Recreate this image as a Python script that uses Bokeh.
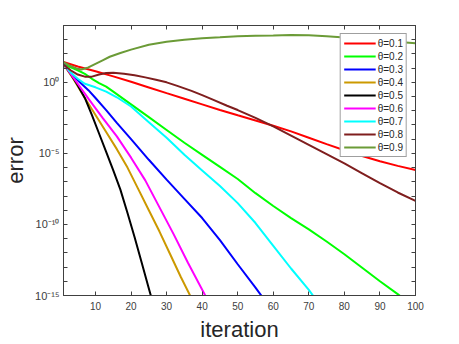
import numpy as np
from bokeh.plotting import figure
from bokeh.models import Range1d, FixedTicker, LogAxis, LinearAxis, Legend, LegendItem
from bokeh.embed import file_html
from bokeh.resources import INLINE

# ---- data (error values given as log10) ----
theta_labels = ["θ=0.1", "θ=0.2", "θ=0.3", "θ=0.4", "θ=0.5",
                "θ=0.6", "θ=0.7", "θ=0.8", "θ=0.9"]

it_01 = [1, 5, 10, 15, 20, 25, 30, 35, 40, 45, 50, 55, 60, 65, 70, 75, 80, 85, 90, 95, 100]
lg_01 = [1.43, 1.12, 0.78, 0.42, 0.04, -0.36, -0.76, -1.15, -1.55, -1.95, -2.32, -2.68,
         -3.05, -3.45, -3.9, -4.35, -4.78, -5.18, -5.55, -5.88, -6.17]

it_02 = [1, 3, 5, 7, 9, 11, 13, 15, 20, 25, 30, 35, 40, 45, 50, 55, 60, 65, 70, 75, 80, 85, 90, 95, 97]
lg_02 = [1.3, 1.05, 0.85, 0.6, 0.25, -0.05, -0.3, -0.65, -1.55, -2.45, -3.35, -4.25, -5.1,
         -5.95, -6.8, -7.8, -8.7, -9.55, -10.35, -11.2, -12.1, -13.05, -14.0, -14.9, -15.3]

it_03 = [1, 3, 5, 8, 10, 13, 16, 20, 25, 30, 35, 40, 45, 50, 55, 57.5]
lg_03 = [1.3, 0.7, 0.15, -0.55, -1.1, -1.95, -2.85, -4.0, -5.45, -6.85, -8.2, -9.55,
         -11.1, -12.8, -14.45, -15.3]

it_04 = [1, 4, 7, 10, 13, 16, 19, 22, 25, 28, 31, 34, 37.2]
lg_04 = [1.3, 0.15, -1.1, -2.3, -3.5, -4.7, -6.0, -7.5, -9.0, -10.5, -12.1, -13.7, -15.3]

it_05 = [1, 3, 5, 7, 9, 11, 13, 15, 17, 19, 21, 23, 25, 26]
lg_05 = [1.3, 0.6, -0.2, -1.1, -2.3, -3.6, -4.9, -6.2, -7.55, -9.2, -10.9, -12.7, -14.5, -15.4]

it_06 = [1, 4, 8, 12, 16, 20, 24, 28, 32, 36, 41.5]
lg_06 = [1.3, 0.25, -1.15, -2.5, -3.8, -5.3, -6.9, -8.8, -10.7, -12.7, -15.3]

it_07 = [1, 3, 5, 7, 10, 13, 16, 20, 25, 30, 35, 40, 45, 50, 55, 60, 65, 70, 72]
lg_07 = [1.3, 0.7, 0.25, -0.1, -0.35, -0.65, -1.05, -1.7, -2.8, -3.9, -5.1, -6.2, -7.3,
         -8.5, -9.9, -11.5, -13.1, -14.6, -15.3]

it_08 = [1, 3, 5, 7, 9, 11, 13, 15, 18, 21, 24, 27, 30, 33, 37, 40, 43, 47, 50, 55, 60,
         65, 70, 75, 80, 85, 90, 95, 100]
lg_08 = [1.25, 0.85, 0.55, 0.4, 0.4, 0.55, 0.65, 0.68, 0.6, 0.5, 0.35, 0.18, 0.0, -0.25,
         -0.6, -0.9, -1.22, -1.65, -1.95, -2.5, -3.1, -3.75, -4.4, -5.05, -5.7, -6.4,
         -7.1, -7.75, -8.34]

it_09 = [1, 3, 5, 6, 8, 10, 12, 14, 17, 20, 25, 30, 35, 40, 45, 50, 55, 60, 65, 70, 75,
         80, 90, 100]
lg_09 = [1.43, 1.15, 0.95, 0.9, 1.05, 1.3, 1.55, 1.8, 2.06, 2.3, 2.64, 2.85, 3.0, 3.1,
         3.17, 3.25, 3.28, 3.3, 3.33, 3.32, 3.25, 3.15, 2.95, 2.75]

colors = ["#FF0000", "#00FF00", "#0000FF", "#CC9900", "#000000",
          "#FF00FF", "#00FFFF", "#7F1E1E", "#6B9B37"]

x_ticks = [10, 20, 30, 40, 50, 60, 70, 80, 90, 100]
y_major = [1e-15, 1e-10, 1e-5, 1e0]
y_tick_labels = ["10⁻¹⁵", "10⁻¹⁰", "10⁻⁵", "10⁰"]
y_minor = [1e-14, 1e-13, 1e-12, 1e-11, 1e-9, 1e-8, 1e-7, 1e-6, 1e-4, 1e-3,
           1e-2, 1e-1, 1e1, 1e2, 1e3, 1e4]

series = [(it_01, lg_01), (it_02, lg_02), (it_03, lg_03), (it_04, lg_04), (it_05, lg_05),
          (it_06, lg_06), (it_07, lg_07), (it_08, lg_08), (it_09, lg_09)]

FONT = "Liberation Sans"
AX = "#404040"

p = figure(width=451, height=344, y_axis_type="log",
           x_range=Range1d(1, 100), y_range=Range1d(1e-15, 1e4),
           output_backend="svg", toolbar_location=None,
           min_border_left=61, min_border_top=25, min_border_right=36,
           min_border_bottom=47)
p.grid.visible = False
p.outline_line_color = AX
p.outline_line_width = 1
p.background_fill_color = "white"
p.border_fill_color = "white"

items = []
for (xs, lg), c, lab in zip(series, colors, theta_labels):
    ys = 10.0 ** np.asarray(lg, dtype=float)
    r = p.line(xs, ys, line_color=c, line_width=2)
    items.append(LegendItem(label=lab, renderers=[r]))


def style(ax):
    ax.axis_line_color = AX
    ax.major_tick_line_color = AX
    ax.minor_tick_line_color = AX
    ax.major_tick_in = 4
    ax.major_tick_out = 0
    ax.minor_tick_in = 4
    ax.minor_tick_out = 0
    ax.major_label_text_font = FONT
    ax.major_label_text_font_size = "10px"
    ax.major_label_text_color = AX
    ax.axis_label_text_font = FONT
    ax.axis_label_text_font_size = "22px"
    ax.axis_label_text_font_style = "normal"
    ax.axis_label_text_color = "#262626"


xa = p.xaxis[0]
xa.ticker = FixedTicker(ticks=x_ticks)
xa.axis_label = "iteration"
style(xa)
xa.major_label_standoff = 6
xa.axis_label_standoff = 4

ya = p.yaxis[0]
ya.ticker = FixedTicker(ticks=y_major, minor_ticks=y_minor)
ya.major_label_overrides = {v: s for v, s in zip(y_major, y_tick_labels)}
ya.axis_label = "error"
style(ya)
ya.major_label_text_font_size = "11px"
ya.major_label_standoff = 4
ya.axis_label_standoff = 4

top = LinearAxis(ticker=FixedTicker(ticks=[], minor_ticks=x_ticks))
style(top)
p.add_layout(top, "above")

right = LogAxis(ticker=FixedTicker(ticks=[], minor_ticks=y_major + y_minor))
style(right)
p.add_layout(right, "right")

legend = Legend(items=items, location="top_right")
legend.margin = 8
legend.padding = 3
legend.spacing = 1
legend.label_height = 12
legend.glyph_height = 12
legend.glyph_width = 32
legend.label_standoff = 2
legend.label_text_font = FONT
legend.label_text_font_size = "10px"
legend.label_text_color = "#262626"
legend.border_line_color = AX
legend.border_line_width = 1
legend.background_fill_color = "white"
legend.background_fill_alpha = 1.0
p.add_layout(legend)

open("out.html", "w").write(file_html(p, INLINE))
